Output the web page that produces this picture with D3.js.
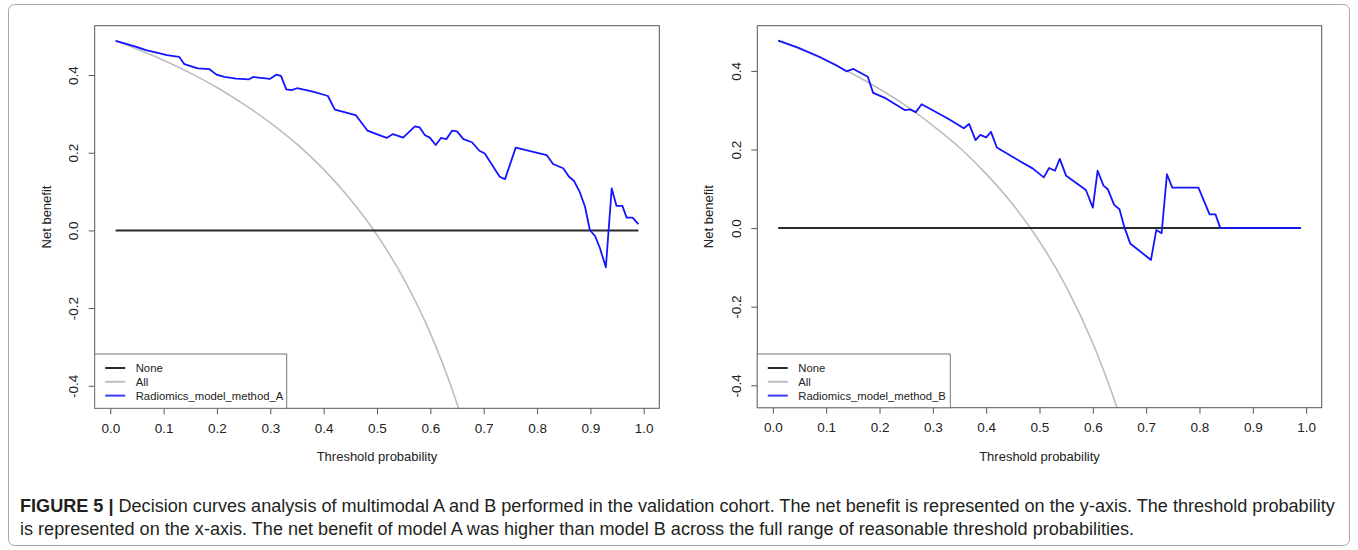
<!DOCTYPE html>
<html>
<head>
<meta charset="utf-8">
<script src="https://cdn.jsdelivr.net/npm/d3@7"></script>
<style>
  body { margin: 0; background: #fff; }
  svg { display: block; font-family: "Liberation Sans", Arial, sans-serif; }
</style>
</head>
<body>
<svg id="fig" width="1358" height="550"></svg>
<script>
// ---- data ----
const xTicks = [0, 0.1, 0.2, 0.3, 0.4, 0.5, 0.6, 0.7, 0.8, 0.9, 1.0];
const yTicks = [-0.4, -0.2, 0, 0.2, 0.4];

const noneThreshold = [0.01, 0.99];
const noneBenefit = [0, 0];

// "All" (treat everyone) curves
const allThreshold = [0.01, 0.05, 0.10, 0.15, 0.20, 0.25, 0.30, 0.35, 0.40, 0.45, 0.50, 0.55, 0.60, 0.62, 0.64, 0.66];
const allBenefitA = [0.489, 0.467, 0.438, 0.405, 0.368, 0.325, 0.277, 0.222, 0.157, 0.080, -0.012, -0.124, -0.265, -0.332, -0.406, -0.488];
const allBenefitB = [0.478, 0.456, 0.426, 0.392, 0.354, 0.311, 0.261, 0.205, 0.138, 0.060, -0.034, -0.149, -0.293, -0.361, -0.436, -0.521];

// Radiomics_model_method_A
const thresholdA = [0.01, 0.046, 0.067, 0.093, 0.106, 0.129, 0.139, 0.164, 0.186, 0.199, 0.214, 0.236, 0.260, 0.268,
  0.299, 0.311, 0.320, 0.330, 0.340, 0.350, 0.380, 0.408, 0.421, 0.460, 0.482, 0.518, 0.530, 0.549, 0.571, 0.580,
  0.590, 0.599, 0.610, 0.620, 0.630, 0.641, 0.650, 0.662, 0.678, 0.692, 0.702, 0.730, 0.740, 0.760, 0.818, 0.830,
  0.849, 0.860, 0.869, 0.880, 0.890, 0.899, 0.909, 0.918, 0.929, 0.940, 0.949, 0.960, 0.968, 0.979, 0.990];
const benefitA = [0.488, 0.474, 0.464, 0.456, 0.451, 0.447, 0.428, 0.417, 0.415, 0.401, 0.395, 0.391, 0.389, 0.395,
  0.390, 0.401, 0.398, 0.363, 0.361, 0.366, 0.357, 0.346, 0.311, 0.297, 0.257, 0.238, 0.248, 0.239, 0.268, 0.265,
  0.245, 0.239, 0.220, 0.238, 0.235, 0.257, 0.255, 0.235, 0.227, 0.205, 0.198, 0.138, 0.132, 0.213, 0.194, 0.171,
  0.160, 0.138, 0.128, 0.099, 0.061, 0.001, -0.015, -0.046, -0.095, 0.108, 0.063, 0.063, 0.033, 0.033, 0.016];

// Radiomics_model_method_B
const thresholdB = [0.01, 0.046, 0.087, 0.118, 0.138, 0.151, 0.178, 0.188, 0.212, 0.248, 0.257, 0.268, 0.279, 0.328,
  0.358, 0.368, 0.380, 0.389, 0.400, 0.409, 0.420, 0.465, 0.487, 0.508, 0.518, 0.529, 0.538, 0.550, 0.587, 0.600,
  0.609, 0.620, 0.628, 0.640, 0.650, 0.659, 0.670, 0.709, 0.719, 0.729, 0.739, 0.749, 0.798, 0.819, 0.830, 0.839, 0.990];
const benefitB = [0.477, 0.460, 0.436, 0.415, 0.399, 0.405, 0.385, 0.344, 0.330, 0.300, 0.302, 0.295, 0.315, 0.279,
  0.254, 0.265, 0.224, 0.237, 0.231, 0.245, 0.205, 0.169, 0.152, 0.129, 0.153, 0.146, 0.176, 0.133, 0.097, 0.052,
  0.146, 0.108, 0.099, 0.059, 0.048, 0.003, -0.039, -0.081, -0.005, -0.013, 0.137, 0.103, 0.103, 0.035, 0.035, 0.000, 0.000];

const legendLabels = ["None", "All"];
const captionLines = [
  "Decision curves analysis of multimodal A and B performed in the validation cohort. The net benefit is represented on the y-axis. The threshold probability",
  "is represented on the x-axis. The net benefit of model A was higher than model B across the full range of reasonable threshold probabilities."
];

const zip = (xs, ys) => xs.map((x, i) => [x, ys[i]]);

const svg = d3.select("#fig");

// outer frame
svg.append("rect")
  .attr("x", 8.5).attr("y", 4.5).attr("width", 1341).attr("height", 541)
  .attr("rx", 6).attr("fill", "none").attr("stroke", "#a8a8a8");

function drawPanel(opt) {
  const x = d3.scaleLinear().domain([-0.0292, 1.0292]).range([opt.left, opt.right]);
  const y = d3.scaleLinear().domain(opt.yDomain).range([opt.bottom, opt.top]);
  const g = svg.append("g");

  const clipId = "clip" + opt.id;
  svg.append("clipPath").attr("id", clipId)
    .append("rect")
    .attr("x", opt.left).attr("y", opt.top)
    .attr("width", opt.right - opt.left).attr("height", opt.bottom - opt.top);

  const line = d3.line().x(d => x(d[0])).y(d => y(d[1]));
  const plot = g.append("g").attr("clip-path", `url(#${clipId})`);

  plot.append("path")
    .attr("d", line.curve(d3.curveMonotoneX)(zip(allThreshold, opt.allBenefit)))
    .attr("fill", "none").attr("stroke", "#bdbdbd").attr("stroke-width", 1.6);
  line.curve(d3.curveLinear);
  plot.append("path")
    .attr("d", line(zip(noneThreshold, noneBenefit)))
    .attr("fill", "none").attr("stroke", "#2a2a2a").attr("stroke-width", 2);
  plot.append("path")
    .attr("d", line(zip(opt.threshold, opt.benefit)))
    .attr("fill", "none").attr("stroke", "#1414ff").attr("stroke-width", 1.8)
    .attr("stroke-linejoin", "round");

  // x axis
  const xa = g.append("g")
    .attr("transform", `translate(0,${opt.bottom})`)
    .call(d3.axisBottom(x).tickValues(xTicks).tickSize(6).tickPadding(9)
      .tickFormat(d => d.toFixed(1)));
  xa.select(".domain").remove();
  xa.selectAll("line").attr("stroke", "#555");
  xa.selectAll("text").attr("font-size", 13.5).attr("fill", "#222")
    .attr("font-family", "Liberation Sans, Arial, sans-serif");

  // y axis (R style, labels parallel to axis)
  const ya = g.append("g")
    .attr("transform", `translate(${opt.left},0)`)
    .call(d3.axisLeft(y).tickValues(yTicks).tickSize(6).tickFormat(d => d.toFixed(1)));
  ya.select(".domain").remove();
  ya.selectAll("line").attr("stroke", "#555");
  ya.selectAll("text")
    .attr("transform", "rotate(-90)")
    .attr("x", 0).attr("y", -16.5).attr("dy", 0)
    .attr("text-anchor", "middle")
    .attr("font-size", 13.5).attr("fill", "#222")
    .attr("font-family", "Liberation Sans, Arial, sans-serif");

  // box
  g.append("rect")
    .attr("x", opt.left).attr("y", opt.top)
    .attr("width", opt.right - opt.left).attr("height", opt.bottom - opt.top)
    .attr("fill", "none").attr("stroke", "#555");

  // axis titles
  g.append("text")
    .attr("x", (opt.left + opt.right) / 2).attr("y", 461)
    .attr("text-anchor", "middle").attr("font-size", 13).attr("fill", "#222")
    .text("Threshold probability");
  g.append("text")
    .attr("transform", "rotate(-90)")
    .attr("x", -(opt.top + opt.bottom) / 2).attr("y", opt.left - 44)
    .attr("text-anchor", "middle").attr("font-size", 13).attr("fill", "#222")
    .text("Net benefit");

  // legend
  const lg = g.append("g").attr("transform", `translate(${opt.left},354)`);
  lg.append("rect")
    .attr("width", opt.legendWidth).attr("height", opt.bottom - 354)
    .attr("fill", "#fff").attr("stroke", "#777");
  const items = [
    { label: legendLabels[0], color: "#2a2a2a" },
    { label: legendLabels[1], color: "#bdbdbd" },
    { label: opt.modelName, color: "#3a3aff" }
  ];
  items.forEach((it, i) => {
    const yy = 14 + i * 13.8;
    lg.append("line").attr("x1", 10.5).attr("x2", 30.5).attr("y1", yy).attr("y2", yy)
      .attr("stroke", it.color).attr("stroke-width", 2);
    lg.append("text").attr("x", 41).attr("y", yy).attr("dy", "0.36em")
      .attr("font-size", 11.3).attr("fill", "#222").text(it.label);
  });
}

drawPanel({
  id: "A", left: 94.7, right: 659.3, top: 25.7, bottom: 408.3,
  yDomain: [-0.458, 0.527], allBenefit: allBenefitA,
  threshold: thresholdA, benefit: benefitA,
  modelName: "Radiomics_model_method_A", legendWidth: 192
});
drawPanel({
  id: "B", left: 757.3, right: 1321.7, top: 25.7, bottom: 407.7,
  yDomain: [-0.457, 0.515], allBenefit: allBenefitB,
  threshold: thresholdB, benefit: benefitB,
  modelName: "Radiomics_model_method_B", legendWidth: 193
});

// caption
const cap = svg.append("g").attr("fill", "#231f20");
const t1 = cap.append("text").attr("x", 20).attr("y", 512).attr("font-size", 15);
t1.append("tspan").attr("font-weight", "bold").text("FIGURE 5 | ");
t1.append("tspan").text(captionLines[0]);
const t2 = cap.append("text").attr("x", 20).attr("y", 535).attr("font-size", 15).text(captionLines[1]);
// fit the first line to the printed width, same size for the second
const w1 = t1.node().getComputedTextLength();
const fs = 15 * 1316 / w1;
t1.attr("font-size", fs);
t2.attr("font-size", fs);
</script>
</body>
</html>
